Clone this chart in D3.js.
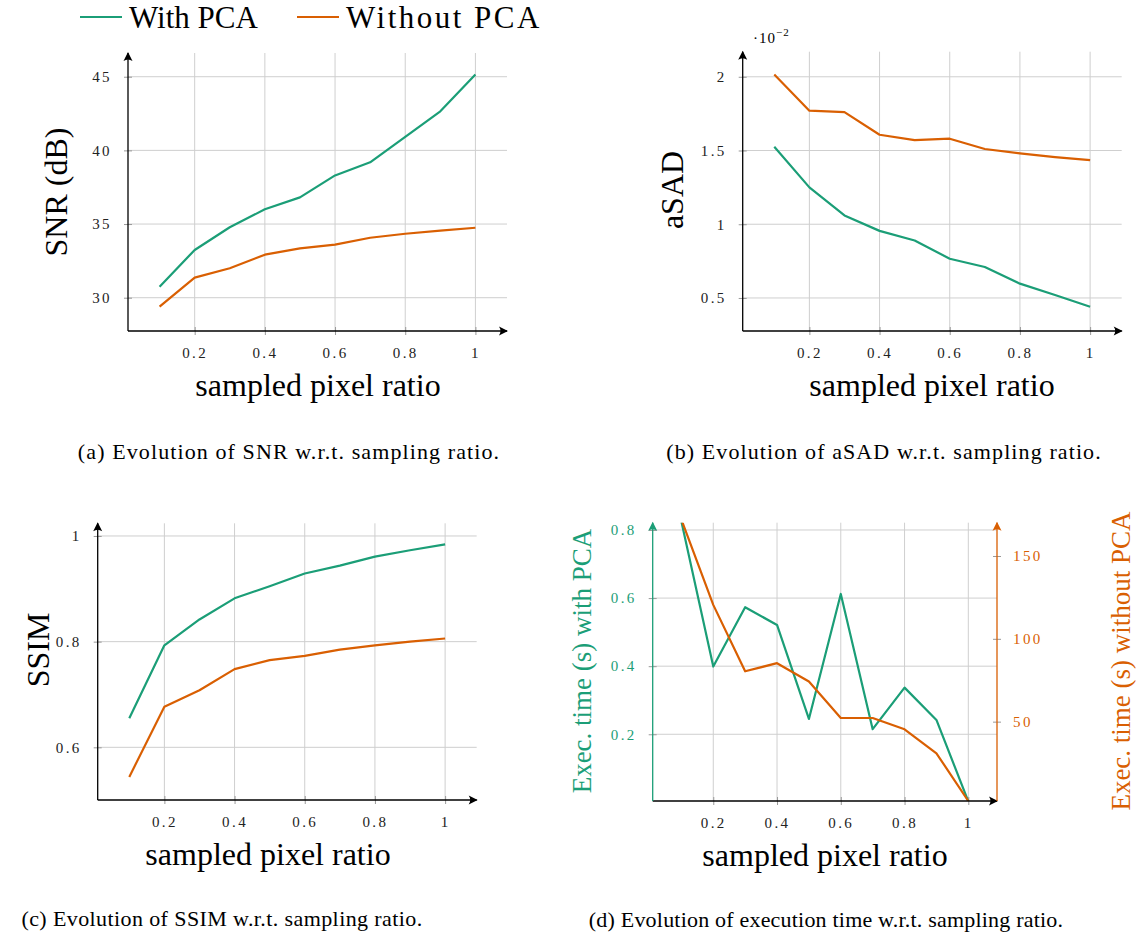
<!DOCTYPE html>
<html lang="en">
<head>
    <meta charset="utf-8">
    <title>Sampling ratio study</title>
    <script src="https://cdn.jsdelivr.net/npm/d3@7/dist/d3.min.js"></script>
</head>
<style>
    body {
        margin: 0;
        padding: 0;
        background-color: #ffffff;
        font-family: "Liberation Serif", "Times New Roman", serif;
    }
    .grid line {
        stroke: #cfcfcf;
        stroke-width: 1;
    }
    .tick text {
        font-size: 15px;
        letter-spacing: 2.4px;
        font-family: "Liberation Serif", serif;
    }
    .tick line {
        stroke: #999;
    }
    .series {
        fill: none;
        stroke-width: 2.2;
        stroke-linejoin: round;
    }
    .axis-title {
        font-size: 32px;
    }
    .caption {
        font-size: 22px;
        letter-spacing: 1.1px;
    }
    .legend {
        font-size: 31px;
    }
</style>
<body>
    <svg width="1136" height="938" id="chart"></svg>

    <script>
        // sampling ratios (x) shared by all panels
        var ratios = [0.1, 0.2, 0.3, 0.4, 0.5, 0.6, 0.7, 0.8, 0.9, 1.0];
        var xTicks = [0.2, 0.4, 0.6, 0.8, 1];

        // (a) SNR in dB
        var snrWith = [30.75, 33.24, 34.78, 36.0, 36.81, 38.3, 39.19, 40.92, 42.65, 45.15];
        var snrWithout = [29.39, 31.36, 32.0, 32.92, 33.35, 33.6, 34.07, 34.34, 34.55, 34.75];
        var snrTicks = [30, 35, 40, 45];

        // (b) aSAD, in units of 10^-2
        var asadWith = [1.525, 1.25, 1.06, 0.955, 0.89, 0.766, 0.71, 0.597, 0.52, 0.44];
        var asadWithout = [2.016, 1.77, 1.76, 1.607, 1.57, 1.58, 1.51, 1.48, 1.455, 1.435];
        var asadTicks = [0.5, 1, 1.5, 2];

        // (c) SSIM
        var ssimWith = [0.655, 0.793, 0.842, 0.882, 0.905, 0.929, 0.944, 0.961, 0.973, 0.984];
        var ssimWithout = [0.544, 0.677, 0.708, 0.748, 0.765, 0.773, 0.785, 0.793, 0.80, 0.806];
        var ssimTicks = [0.6, 0.8, 1];

        // (d) execution time (s)
        var timeWith = [0.825, 0.399, 0.573, 0.521, 0.245, 0.612, 0.215, 0.337, 0.242, 0.003];
        var timeWithout = [172, 120.5, 80.4, 85.3, 74.2, 52.2, 52.2, 45.4, 30.9, 2.1];
        var timeTicksLeft = [0.2, 0.4, 0.6, 0.8];
        var timeTicksRight = [50, 100, 150];

        var green = "#1b9e77", orange = "#d95f02";

        var svg = d3.select("#chart");
        var defs = svg.append("defs");

        function arrowMarker(id, color) {
            defs.append("marker")
                .attr("id", id)
                .attr("viewBox", "-10 -6 12 12")
                .attr("markerWidth", 12)
                .attr("markerHeight", 12)
                .attr("markerUnits", "userSpaceOnUse")
                .attr("refX", 0)
                .attr("refY", 0)
                .attr("orient", "auto")
                .append("path")
                .attr("d", "M1,0 L-8,-4.5 Q-5,0 -8,4.5 Z")
                .attr("fill", color);
        }
        arrowMarker("arrow-black", "#000");
        arrowMarker("arrow-green", green);
        arrowMarker("arrow-orange", orange);

        function drawPanel(p) {
            var g = svg.append("g");
            var x = d3.scaleLinear().domain([0.01, 1.09]).range([p.left, p.right]);
            var y = d3.scaleLinear().domain(p.yDomain).range([p.bottom, p.top]);

            // grid
            var grid = g.append("g").attr("class", "grid");
            grid.selectAll(".vx").data(xTicks).enter().append("line")
                .attr("x1", function(d) { return x(d); })
                .attr("x2", function(d) { return x(d); })
                .attr("y1", p.bottom).attr("y2", p.top);
            grid.selectAll(".hy").data(p.yTicks).enter().append("line")
                .attr("x1", p.left).attr("x2", p.right)
                .attr("y1", function(d) { return y(d); })
                .attr("y2", function(d) { return y(d); });

            // x axis ticks + labels
            var xa = g.append("g")
                .attr("transform", "translate(0," + p.bottom + ")")
                .call(d3.axisBottom(x).tickValues(xTicks).tickSize(0).tickPadding(16)
                    .tickFormat(function(d) { return d === 1 ? "1" : d3.format(".1f")(d); }));
            xa.select(".domain").remove();
            xa.selectAll(".tick line").attr("y1", -4).attr("y2", 4);
            xa.selectAll(".tick text").attr("fill", "#222");

            // y axis ticks + labels
            var ya = g.append("g")
                .attr("transform", "translate(" + p.left + ",0)")
                .call(d3.axisLeft(y).tickValues(p.yTicks).tickSize(0).tickPadding(16)
                    .tickFormat(p.yFormat || null));
            ya.select(".domain").remove();
            ya.selectAll(".tick line").attr("x1", -4).attr("x2", 4);
            ya.selectAll(".tick text").attr("fill", p.yColor || "#222");

            if (p.y2Domain) {
                var y2 = d3.scaleLinear().domain(p.y2Domain).range([p.bottom, p.top]);
                var ya2 = g.append("g")
                    .attr("transform", "translate(" + p.right + ",0)")
                    .call(d3.axisRight(y2).tickValues(p.y2Ticks).tickSize(0).tickPadding(16));
                ya2.select(".domain").remove();
                ya2.selectAll(".tick line").attr("x1", -4).attr("x2", 4);
                ya2.selectAll(".tick text").attr("fill", orange);
            }

            // clip for the lines
            var clipId = "clip-" + p.id;
            defs.append("clipPath").attr("id", clipId).append("rect")
                .attr("x", p.left).attr("y", p.top)
                .attr("width", p.right - p.left).attr("height", p.bottom - p.top);

            var line = d3.line()
                .x(function(d, i) { return x(ratios[i]); })
                .y(function(d) { return y(d); });

            var lines = g.append("g").attr("clip-path", "url(#" + clipId + ")");
            lines.append("path").datum(p.withPCA).attr("class", "series")
                .attr("stroke", green).attr("d", line);
            if (p.y2Domain) {
                var line2 = d3.line()
                    .x(function(d, i) { return x(ratios[i]); })
                    .y(function(d) { return y2(d); });
                lines.append("path").datum(p.withoutPCA).attr("class", "series")
                    .attr("stroke", orange).attr("d", line2);
            } else {
                lines.append("path").datum(p.withoutPCA).attr("class", "series")
                    .attr("stroke", orange).attr("d", line);
            }

            // axis lines with arrows
            g.append("line")
                .attr("x1", p.left).attr("x2", p.right)
                .attr("y1", p.bottom).attr("y2", p.bottom)
                .attr("stroke", "#000").attr("stroke-width", 1.3)
                .attr("marker-end", "url(#arrow-black)");
            g.append("line")
                .attr("x1", p.left).attr("x2", p.left)
                .attr("y1", p.bottom).attr("y2", p.top)
                .attr("stroke", p.yColor || "#000").attr("stroke-width", 1.3)
                .attr("marker-end", "url(#" + (p.yColor ? "arrow-green" : "arrow-black") + ")");
            if (p.y2Domain) {
                g.append("line")
                    .attr("x1", p.right).attr("x2", p.right)
                    .attr("y1", p.bottom).attr("y2", p.top)
                    .attr("stroke", orange).attr("stroke-width", 1.3)
                    .attr("marker-end", "url(#arrow-orange)");
            }

            // titles
            g.append("text").attr("class", "axis-title")
                .attr("x", p.xLabelX).attr("y", p.bottom + 65)
                .attr("text-anchor", "middle")
                .text("sampled pixel ratio");
            g.append("text").attr("class", "axis-title")
                .attr("transform", "translate(" + p.yLabel[0] + "," + p.yLabel[1] + ") rotate(-90)")
                .attr("text-anchor", "middle")
                .attr("dy", "0.35em")
                .style("font-size", p.yLabelSize || null)
                .attr("fill", p.yColor || "#000")
                .text(p.yTitle);
            if (p.y2Title) {
                g.append("text").attr("class", "axis-title")
                    .attr("transform", "translate(" + p.y2Label[0] + "," + p.y2Label[1] + ") rotate(-90)")
                    .attr("text-anchor", "middle")
                    .attr("dy", "0.35em")
                    .style("font-size", p.yLabelSize || null)
                    .attr("fill", orange)
                    .text(p.y2Title);
            }
            g.append("text").attr("class", "caption")
                .attr("x", p.caption[0]).attr("y", p.caption[1])
                .attr("text-anchor", "middle")
                .style("letter-spacing", p.captionSpacing || null)
                .text(p.captionText);
            return g;
        }

        drawPanel({
            id: "a", left: 128, right: 507, top: 53, bottom: 331,
            yDomain: [27.74, 46.61], yTicks: snrTicks,
            withPCA: snrWith, withoutPCA: snrWithout,
            xLabelX: 318, yTitle: "SNR (dB)", yLabel: [56, 192],
            caption: [289, 459], captionText: "(a) Evolution of SNR w.r.t. sampling ratio."
        });

        var gb = drawPanel({
            id: "b", left: 742.7, right: 1121.7, top: 51.7, bottom: 331,
            yDomain: [0.276, 2.17], yTicks: asadTicks,
            yFormat: function(d) { return d3.format("")(d); },
            withPCA: asadWith, withoutPCA: asadWithout,
            xLabelX: 932, yTitle: "aSAD", yLabel: [672, 190],
            caption: [884, 459], captionText: "(b) Evolution of aSAD w.r.t. sampling ratio."
        });
        // scale factor of the aSAD axis
        var expo = gb.append("text").attr("x", 753).attr("y", 43)
            .style("font-size", "15px").style("letter-spacing", "1px");
        expo.append("tspan").text("\u00b710");
        expo.append("tspan").attr("dy", -7).style("font-size", "11px").text("\u22122");

        drawPanel({
            id: "c", left: 97.7, right: 476.7, top: 523.3, bottom: 800,
            yDomain: [0.5003, 1.024], yTicks: ssimTicks,
            yFormat: function(d) { return d3.format("")(d); },
            withPCA: ssimWith, withoutPCA: ssimWithout,
            xLabelX: 268, yTitle: "SSIM", yLabel: [38, 650],
            caption: [222, 926], captionSpacing: "0.4px",
            captionText: "(c) Evolution of SSIM w.r.t. sampling ratio."
        });

        drawPanel({
            id: "d", left: 652.7, right: 997, top: 522.7, bottom: 801,
            yDomain: [0.004, 0.8214], yTicks: timeTicksLeft, yColor: green,
            y2Domain: [2.1, 170.1], y2Ticks: timeTicksRight,
            withPCA: timeWith, withoutPCA: timeWithout,
            xLabelX: 825, yTitle: "Exec. time (s) with PCA", yLabel: [582, 661],
            y2Title: "Exec. time (s) without PCA", y2Label: [1121, 661], yLabelSize: "27px",
            caption: [826, 927], captionSpacing: "0.2px",
            captionText: "(d) Evolution of execution time w.r.t. sampling ratio."
        });

        // legend
        var legendItems = [
            {name: "With PCA", color: green, x: 80},
            {name: "Without PCA", color: orange, x: 297}
        ];
        var legend = svg.append("g").selectAll("g").data(legendItems).enter().append("g")
            .attr("transform", function(d) { return "translate(" + d.x + ",0)"; });
        legend.append("line")
            .attr("x1", 0).attr("x2", 42).attr("y1", 17).attr("y2", 17)
            .attr("stroke", function(d) { return d.color; })
            .attr("stroke-width", 2.2);
        legend.append("text").attr("class", "legend")
            .attr("x", 49).attr("y", 28)
            .style("letter-spacing", function(d, i) { return i === 1 ? "2.5px" : "0px"; })
            .text(function(d) { return d.name; });
    </script>
</body>
</html>
